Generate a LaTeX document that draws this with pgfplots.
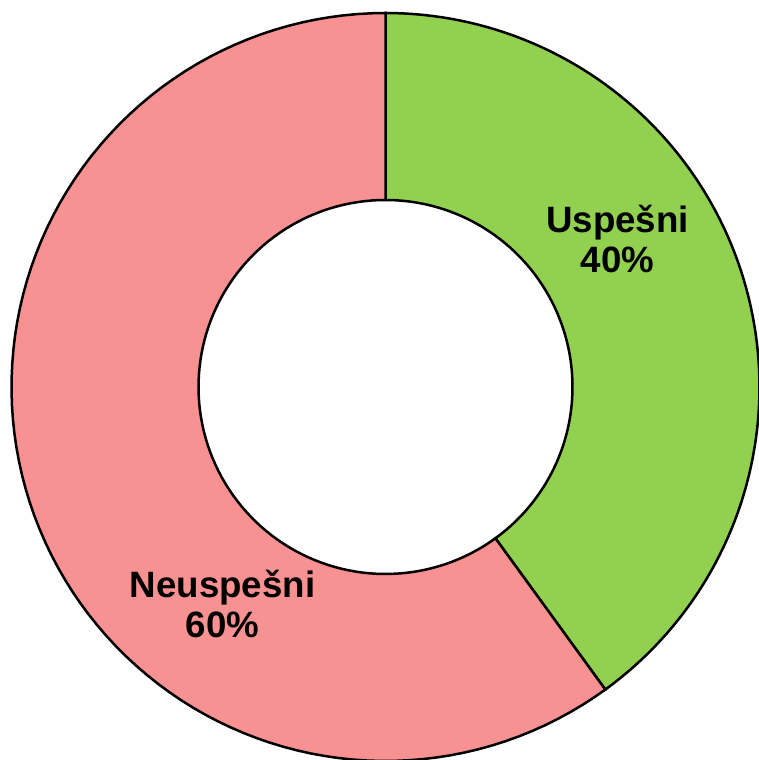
\documentclass[border=0pt]{standalone}
\usepackage{pgfplots}
\usepackage{pgfplotstable}
\pgfplotsset{compat=1.18}
\usepackage{fontspec}
\setmainfont{Liberation Sans}
\definecolor{okgreen}{HTML}{92D050}
\definecolor{badred}{HTML}{F89191}
\pgfplotstableread{
label value
Uspesni 40
Neuspesni 60
}\piedata
\pgfplotstablegetelem{0}{value}\of\piedata \let\vA\pgfplotsretval
\pgfplotstablegetelem{1}{value}\of\piedata \let\vB\pgfplotsretval
\pgfmathsetmacro\aA{90}
\pgfmathsetmacro\aB{90-3.6*\vA}
\pgfmathsetmacro\aC{\aB-3.6*\vB}
\begin{document}%
\begin{tikzpicture}
\begin{axis}[
  x=0.3pt, y=0.3pt,
  xmin=-385.5, xmax=373.5, ymin=-373, ymax=387,
  hide axis, clip=true,
]
\addplot[fill=okgreen, draw=black, line width=0.75pt, domain=0:201, samples=202, variable=\t]
  ({ifthenelse(\t<100.5,374,187)*cos(ifthenelse(\t<100.5, \aA+(\aB-\aA)*\t/100, \aB-(\aB-\aA)*(\t-101)/100))},
   {ifthenelse(\t<100.5,374,187)*sin(ifthenelse(\t<100.5, \aA+(\aB-\aA)*\t/100, \aB-(\aB-\aA)*(\t-101)/100))}) -- cycle;
\addplot[fill=badred, draw=black, line width=0.75pt, domain=0:201, samples=202, variable=\t]
  ({ifthenelse(\t<100.5,374,187)*cos(ifthenelse(\t<100.5, \aB+(\aC-\aB)*\t/100, \aC-(\aC-\aB)*(\t-101)/100))},
   {ifthenelse(\t<100.5,374,187)*sin(ifthenelse(\t<100.5, \aB+(\aC-\aB)*\t/100, \aC-(\aC-\aB)*(\t-101)/100))}) -- cycle;
\node[anchor=base, font=\fontsize{11}{13}\selectfont\bfseries, inner sep=0pt] at (axis cs:232,154) {Uspešni};
\node[anchor=base, font=\fontsize{11}{13}\selectfont\bfseries, inner sep=0pt] at (axis cs:232,114) {40\%};
\node[anchor=base, font=\fontsize{11}{13}\selectfont\bfseries, inner sep=0pt] at (axis cs:-163,-210.7) {Neuspešni};
\node[anchor=base, font=\fontsize{11}{13}\selectfont\bfseries, inner sep=0pt] at (axis cs:-163,-250.7) {60\%};
\end{axis}
\pgfresetboundingbox
\useasboundingbox (current axis.south west) rectangle (current axis.north east);
\end{tikzpicture}%
\end{document}
